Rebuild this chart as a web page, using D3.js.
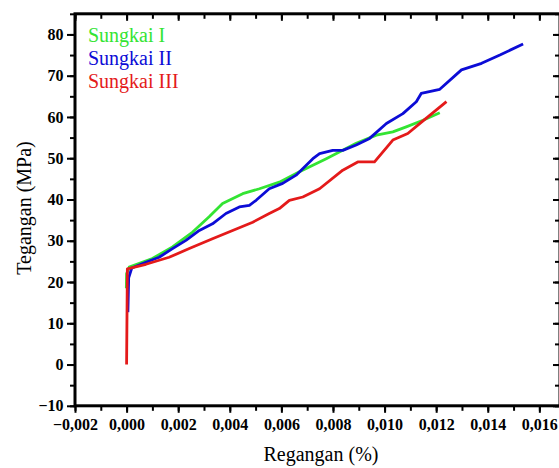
<!DOCTYPE html>
<html><head><meta charset="utf-8">
<script src="https://cdn.jsdelivr.net/npm/d3@7"></script>
<style>body{margin:0;background:#fff}svg{display:block}
svg text{font-family:"Liberation Serif","Times New Roman",Times,"DejaVu Serif",serif}</style>
</head><body>
<script>
const seriesNames = ["Sungkai I", "Sungkai II", "Sungkai III"];
const seriesColors = ["#33e433", "#0c0cd6", "#e41a1a"];
// strain (%) , stress (MPa)
const strainI  = [-0.00001,0.0000,0.0001,0.0010,0.00178,0.00256,0.0032,0.00372,0.0045,0.00515,0.00592,0.0067,0.00774,0.0089,0.00968,0.01032,0.01084,0.01149,0.01214];
const stressI  = [18.5,22.0,23.6,25.7,28.5,32.1,35.8,39.0,41.4,42.6,44.2,46.7,49.9,53.6,55.6,56.4,57.6,59.2,61.0];
const strainII = [0.00005,0.00008,0.0002,0.00075,0.00126,0.00178,0.0023,0.00282,0.00333,0.00385,0.00437,0.00476,0.00502,0.00553,0.00605,0.00657,0.00722,0.00748,0.00799,0.00838,0.0089,0.00942,0.01007,0.01071,0.01123,0.01142,0.01214,0.01298,0.01376,0.01447,0.01537];
const stressII = [12.7,21.0,23.4,24.8,26.0,28.1,30.1,32.5,34.1,36.6,38.2,38.6,39.8,42.6,43.9,45.9,49.9,51.1,51.9,51.9,53.2,54.8,58.4,60.8,63.7,65.7,66.7,71.4,73.0,75.0,77.7];
const strainIII= [0.0,0.00003,0.00075,0.00165,0.00243,0.00333,0.00411,0.00489,0.00553,0.00592,0.00631,0.00683,0.00748,0.00838,0.00896,0.00961,0.01032,0.0109,0.01136,0.0124];
const stressIII= [0.0,23.2,24.3,26.0,28.1,30.5,32.5,34.5,36.6,37.8,39.8,40.6,42.6,47.1,49.1,49.1,54.4,56.0,58.4,63.7];
const xTicks = [-0.002,0.000,0.002,0.004,0.006,0.008,0.010,0.012,0.014,0.016];
const yTicks = [-10,0,10,20,30,40,50,60,70,80];
const xTitle = "Regangan (%)";
const yTitle = "Tegangan (MPa)";

const W = 559, H = 468;
const L = 75, R = 560, T = 13.8, B = 405.8;
const svg = d3.select("body").append("svg").attr("width", W).attr("height", H);
const x = d3.scaleLinear().domain([-0.002, 0.0168]).range([L, R]);
const y = d3.scaleLinear().domain([-10, 85]).range([B, T]);

const fmtX = v => (v < 0 ? "\u2212" : "") + Math.abs(v).toFixed(3).replace(".", ",");
const fmtY = v => (v < 0 ? "\u2212" : "") + Math.abs(v);
const xMinor = d3.range(-0.002, 0.01681, 0.001);
const yMinor = d3.range(-10, 85.1, 5);

function styleAxis(g){
  g.attr("font-family", null);
  g.selectAll(".domain").remove();
  g.selectAll("line").attr("stroke", "#000").attr("stroke-width", 2);
  g.selectAll("text").attr("font-weight", "bold").attr("font-size", 16).attr("fill", "#000");
}
// minor ticks
svg.append("g").attr("transform", `translate(0,${B})`)
  .call(d3.axisBottom(x).tickValues(xMinor).tickSize(5).tickFormat("")).call(styleAxis);
svg.append("g").attr("transform", `translate(${L},0)`)
  .call(d3.axisLeft(y).tickValues(yMinor).tickSize(5).tickFormat("")).call(styleAxis);
svg.append("g").attr("transform", `translate(0,${T})`)
  .call(d3.axisBottom(x).tickValues(xMinor).tickSize(5).tickFormat("")).call(styleAxis);
svg.append("g").attr("transform", `translate(${R},0)`)
  .call(d3.axisLeft(y).tickValues(yMinor).tickSize(5).tickFormat("")).call(styleAxis);
// major ticks
svg.append("g").attr("transform", `translate(0,${B})`)
  .call(d3.axisBottom(x).tickValues(xTicks).tickSize(7).tickPadding(6).tickFormat(fmtX)).call(styleAxis);
svg.append("g").attr("transform", `translate(${L},0)`)
  .call(d3.axisLeft(y).tickValues(yTicks).tickSize(8).tickPadding(3.5).tickFormat(fmtY)).call(styleAxis);
svg.append("g").attr("transform", `translate(0,${T})`)
  .call(d3.axisBottom(x).tickValues(xTicks).tickSize(7).tickFormat("")).call(styleAxis);
svg.append("g").attr("transform", `translate(${R},0)`)
  .call(d3.axisLeft(y).tickValues(yTicks).tickSize(7).tickFormat("")).call(styleAxis);

// frame
svg.append("rect").attr("x", L).attr("y", T).attr("width", R - L).attr("height", B - T)
  .attr("fill", "none").attr("stroke", "#000").attr("stroke-width", 3);

const data = [
  d3.zip(strainI, stressI),
  d3.zip(strainII, stressII),
  d3.zip(strainIII, stressIII)
];
const line = d3.line().x(d => x(d[0])).y(d => y(d[1]));
svg.append("g").selectAll("path").data(data).join("path")
  .attr("d", line).attr("fill", "none")
  .attr("stroke", (d, i) => seriesColors[i]).attr("stroke-width", 2.8)
  .attr("stroke-linejoin", "round");

// legend
svg.append("g").selectAll("text").data(seriesNames).join("text")
  .attr("x", 88).attr("y", (d, i) => 42 + i * 23.2)
  .attr("font-size", 20)
  .attr("fill", (d, i) => seriesColors[i]).text(d => d);

// titles
svg.append("text").attr("x", 321).attr("y", 461).attr("text-anchor", "middle")
  .attr("font-size", 20).text(xTitle);
svg.append("text").attr("transform", "translate(31,208) rotate(-90)").attr("text-anchor", "middle")
  .attr("font-size", 20).text(yTitle);
</script>
</body></html>
